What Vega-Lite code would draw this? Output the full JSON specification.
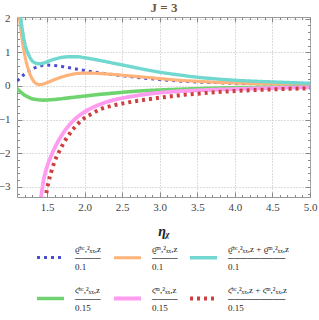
{
  "$schema": "https://vega.github.io/schema/vega-lite/v6.json",
  "width": 293,
  "height": 180,
  "autosize": {"type": "none"},
  "padding": {"left": 17, "top": 17, "right": 9, "bottom": 123},
  "background": "white",
  "config": {
    "view": {"stroke": "#999", "strokeWidth": 1},
    "axis": {"labelFont": "Liberation Serif", "labelFontSize": 11, "labelColor": "#444", "domain": false, "tickColor": "#888", "gridColor": "#bbb", "gridDash": [1, 2], "titleFont": "Liberation Serif"},
    "legend": {"labelFont": "Liberation Serif", "labelFontSize": 9, "labelColor": "#222"}
  },
  "data": {"values": [
    {"s":"a","x":1.10,"y":0.15},{"s":"a","x":1.15,"y":0.25},{"s":"a","x":1.20,"y":0.35},{"s":"a","x":1.25,"y":0.43},{"s":"a","x":1.30,"y":0.50},{"s":"a","x":1.35,"y":0.55},{"s":"a","x":1.40,"y":0.59},{"s":"a","x":1.50,"y":0.62},{"s":"a","x":1.60,"y":0.61},{"s":"a","x":1.70,"y":0.58},{"s":"a","x":1.80,"y":0.54},{"s":"a","x":1.90,"y":0.50},{"s":"a","x":2.00,"y":0.46},{"s":"a","x":2.20,"y":0.39},{"s":"a","x":2.40,"y":0.33},{"s":"a","x":2.60,"y":0.28},{"s":"a","x":2.80,"y":0.23},{"s":"a","x":3.00,"y":0.19},{"s":"a","x":3.25,"y":0.15},{"s":"a","x":3.50,"y":0.12},{"s":"a","x":3.75,"y":0.10},{"s":"a","x":4.00,"y":0.08},{"s":"a","x":4.50,"y":0.06},{"s":"a","x":5.00,"y":0.04},
    {"s":"b","x":1.12,"y":2.3},{"s":"b","x":1.15,"y":1.7},{"s":"b","x":1.18,"y":1.2},{"s":"b","x":1.20,"y":0.95},{"s":"b","x":1.25,"y":0.5},{"s":"b","x":1.30,"y":0.22},{"s":"b","x":1.35,"y":0.08},{"s":"b","x":1.40,"y":0.04},{"s":"b","x":1.45,"y":0.06},{"s":"b","x":1.50,"y":0.10},{"s":"b","x":1.60,"y":0.19},{"s":"b","x":1.70,"y":0.27},{"s":"b","x":1.80,"y":0.33},{"s":"b","x":1.90,"y":0.37},{"s":"b","x":2.00,"y":0.38},{"s":"b","x":2.10,"y":0.38},{"s":"b","x":2.20,"y":0.37},{"s":"b","x":2.40,"y":0.34},{"s":"b","x":2.60,"y":0.30},{"s":"b","x":2.80,"y":0.26},{"s":"b","x":3.00,"y":0.22},{"s":"b","x":3.25,"y":0.17},{"s":"b","x":3.50,"y":0.14},{"s":"b","x":3.75,"y":0.11},{"s":"b","x":4.00,"y":0.09},{"s":"b","x":4.50,"y":0.06},{"s":"b","x":5.00,"y":0.04},
    {"s":"c","x":1.12,"y":2.5},{"s":"c","x":1.15,"y":2.0},{"s":"c","x":1.18,"y":1.55},{"s":"c","x":1.20,"y":1.3},{"s":"c","x":1.25,"y":0.95},{"s":"c","x":1.30,"y":0.75},{"s":"c","x":1.35,"y":0.68},{"s":"c","x":1.40,"y":0.66},{"s":"c","x":1.45,"y":0.68},{"s":"c","x":1.50,"y":0.72},{"s":"c","x":1.60,"y":0.80},{"s":"c","x":1.70,"y":0.85},{"s":"c","x":1.80,"y":0.87},{"s":"c","x":1.90,"y":0.87},{"s":"c","x":2.00,"y":0.84},{"s":"c","x":2.20,"y":0.76},{"s":"c","x":2.40,"y":0.67},{"s":"c","x":2.60,"y":0.58},{"s":"c","x":2.80,"y":0.49},{"s":"c","x":3.00,"y":0.41},{"s":"c","x":3.25,"y":0.33},{"s":"c","x":3.50,"y":0.26},{"s":"c","x":3.75,"y":0.21},{"s":"c","x":4.00,"y":0.17},{"s":"c","x":4.50,"y":0.12},{"s":"c","x":5.00,"y":0.08},
    {"s":"d","x":1.10,"y":-0.08},{"s":"d","x":1.15,"y":-0.18},{"s":"d","x":1.20,"y":-0.27},{"s":"d","x":1.25,"y":-0.33},{"s":"d","x":1.30,"y":-0.38},{"s":"d","x":1.35,"y":-0.40},{"s":"d","x":1.45,"y":-0.42},{"s":"d","x":1.60,"y":-0.40},{"s":"d","x":1.80,"y":-0.35},{"s":"d","x":2.00,"y":-0.30},{"s":"d","x":2.20,"y":-0.25},{"s":"d","x":2.40,"y":-0.21},{"s":"d","x":2.60,"y":-0.17},{"s":"d","x":2.80,"y":-0.14},{"s":"d","x":3.00,"y":-0.12},{"s":"d","x":3.50,"y":-0.08},{"s":"d","x":4.00,"y":-0.05},{"s":"d","x":4.50,"y":-0.04},{"s":"d","x":5.00,"y":-0.03},
    {"s":"e","x":1.40,"y":-3.6},{"s":"e","x":1.42,"y":-3.3},{"s":"e","x":1.45,"y":-2.85},{"s":"e","x":1.50,"y":-2.4},{"s":"e","x":1.55,"y":-2.1},{"s":"e","x":1.60,"y":-1.85},{"s":"e","x":1.70,"y":-1.45},{"s":"e","x":1.80,"y":-1.15},{"s":"e","x":1.90,"y":-0.93},{"s":"e","x":2.00,"y":-0.77},{"s":"e","x":2.20,"y":-0.55},{"s":"e","x":2.40,"y":-0.41},{"s":"e","x":2.60,"y":-0.32},{"s":"e","x":2.80,"y":-0.25},{"s":"e","x":3.00,"y":-0.20},{"s":"e","x":3.25,"y":-0.16},{"s":"e","x":3.50,"y":-0.13},{"s":"e","x":4.00,"y":-0.09},{"s":"e","x":4.50,"y":-0.06},{"s":"e","x":5.00,"y":-0.04},
    {"s":"f","x":1.47,"y":-3.6},{"s":"f","x":1.49,"y":-3.2},{"s":"f","x":1.52,"y":-2.85},{"s":"f","x":1.55,"y":-2.6},{"s":"f","x":1.60,"y":-2.25},{"s":"f","x":1.65,"y":-2.0},{"s":"f","x":1.70,"y":-1.78},{"s":"f","x":1.80,"y":-1.42},{"s":"f","x":1.90,"y":-1.15},{"s":"f","x":2.00,"y":-0.95},{"s":"f","x":2.10,"y":-0.82},{"s":"f","x":2.20,"y":-0.70},{"s":"f","x":2.40,"y":-0.57},{"s":"f","x":2.60,"y":-0.48},{"s":"f","x":2.80,"y":-0.41},{"s":"f","x":3.00,"y":-0.35},{"s":"f","x":3.25,"y":-0.28},{"s":"f","x":3.50,"y":-0.23},{"s":"f","x":4.00,"y":-0.15},{"s":"f","x":4.50,"y":-0.10},{"s":"f","x":5.00,"y":-0.07}
  ]},
  "resolve": {"axis": {"x": "independent", "y": "independent"}},
  "layer": [
    {
      "mark": {"type": "line", "clip": true, "interpolate": "monotone"},
      "encoding": {
        "x": {"field": "x", "type": "quantitative", "scale": {"domain": [1.1, 5.0], "nice": false, "zero": false},
          "axis": {"orient": "bottom", "title": "ηᵪ", "titleFontSize": 14, "titleFontWeight": "bold", "titleFontStyle": "italic", "titleColor": "#222", "titlePadding": 12,
            "values": [1.2,1.3,1.4,1.5,1.6,1.7,1.8,1.9,2.0,2.1,2.2,2.3,2.4,2.5,2.6,2.7,2.8,2.9,3.0,3.1,3.2,3.3,3.4,3.5,3.6,3.7,3.8,3.9,4.0,4.1,4.2,4.3,4.4,4.5,4.6,4.7,4.8,4.9,5.0],
            "labelExpr": "(round(datum.value*10) % 5 == 0) ? format(datum.value, '.1f') : ''",
            "tickSize": {"condition": {"test": "round(datum.value*10) % 5 == 0", "value": -5}, "value": -2.5},
            "gridOpacity": {"condition": {"test": "round(datum.value*10) % 5 == 0", "value": 1}, "value": 0},
            "labelPadding": 9, "labelFlush": false}},
        "y": {"field": "y", "type": "quantitative", "scale": {"domain": [-3.3, 2.05], "nice": false, "zero": false},
          "axis": {"orient": "left", "title": null,
            "values": [-3.2,-3.0,-2.8,-2.6,-2.4,-2.2,-2.0,-1.8,-1.6,-1.4,-1.2,-1.0,-0.8,-0.6,-0.4,-0.2,0,0.2,0.4,0.6,0.8,1.0,1.2,1.4,1.6,1.8,2.0],
            "labelExpr": "abs(datum.value - round(datum.value)) < 0.01 ? format(datum.value, 'd') : ''",
            "tickSize": {"condition": {"test": "abs(datum.value - round(datum.value)) < 0.01", "value": -5}, "value": -2.5},
            "gridOpacity": {"condition": {"test": "abs(datum.value - round(datum.value)) < 0.01", "value": 1}, "value": 0},
            "labelPadding": 12, "labelFlush": false}},
        "color": {"field": "s", "type": "nominal",
          "scale": {"domain": ["a","b","c","d","e","f"], "range": ["#4d4dd0","#ffb37a","#70d8cf","#6fd46f","#ff9cf0","#cc4040"]},
          "legend": {"orient": "none", "legendX": 18, "legendY": 225, "direction": "horizontal", "columns": 3, "title": null, "symbolType": "stroke", "symbolSize": 729, "symbolStrokeWidth": 3, "columnPadding": 4, "rowPadding": 11, "labelOffset": 9, "labelLimit": 200,
            "encode": {"labels": {"update": {"lineHeight": {"value": 9}, "dy": {"value": -9}}}},
            "labelExpr": "datum.value=='a' ? ['ϱ̄ᵇᶜ,²ₓₓ,z','────','  0.1'] : datum.value=='b' ? ['ϱ̄ᵐ,²ₓₓ,z','────','  0.1'] : datum.value=='c' ? ['ϱ̄ᵇᶜ,²ₓₓ,z + ϱ̄ᵐ,²ₓₓ,z','─────────','        0.1'] : datum.value=='d' ? ['ς̄ᵇᶜ,²ₓₓ,z','────',' 0.15'] : datum.value=='e' ? ['ς̄ᵐ,²ₓₓ,z','────',' 0.15'] : ['ς̄ᵇᶜ,²ₓₓ,z + ς̄ᵐ,²ₓₓ,z','─────────','       0.15']"}},
        "strokeDash": {"field": "s", "type": "nominal", "scale": {"domain": ["a","b","c","d","e","f"], "range": [[3,4],[1,0],[1,0],[1,0],[1,0],[3,4]]}, "legend": null},
        "strokeWidth": {"field": "s", "type": "nominal", "scale": {"domain": ["a","b","c","d","e","f"], "range": [3,4,4,4,4,3]}, "legend": null}
      }
    },
    {
      "mark": {"type": "point", "opacity": 0},
      "encoding": {
        "x": {"field": "x", "type": "quantitative",
          "axis": {"orient": "top", "title": "J = 3", "titleFont": "Liberation Serif", "titleFontSize": 13, "titleFontWeight": "bold", "titleColor": "#74573a", "titlePadding": 3, "labels": false, "grid": false, "minExtent": 0, "maxExtent": 0,
            "values": [1.2,1.3,1.4,1.5,1.6,1.7,1.8,1.9,2.0,2.1,2.2,2.3,2.4,2.5,2.6,2.7,2.8,2.9,3.0,3.1,3.2,3.3,3.4,3.5,3.6,3.7,3.8,3.9,4.0,4.1,4.2,4.3,4.4,4.5,4.6,4.7,4.8,4.9,5.0],
            "tickSize": {"condition": {"test": "round(datum.value*10) % 5 == 0", "value": -5}, "value": -2.5}}},
        "y": {"field": "y", "type": "quantitative",
          "axis": {"orient": "right", "title": null, "labels": false, "grid": false, "minExtent": 0, "maxExtent": 0,
            "values": [-3.2,-3.0,-2.8,-2.6,-2.4,-2.2,-2.0,-1.8,-1.6,-1.4,-1.2,-1.0,-0.8,-0.6,-0.4,-0.2,0,0.2,0.4,0.6,0.8,1.0,1.2,1.4,1.6,1.8,2.0],
            "tickSize": {"condition": {"test": "abs(datum.value - round(datum.value)) < 0.01", "value": -5}, "value": -2.5}}}
      }
    }
  ]
}
